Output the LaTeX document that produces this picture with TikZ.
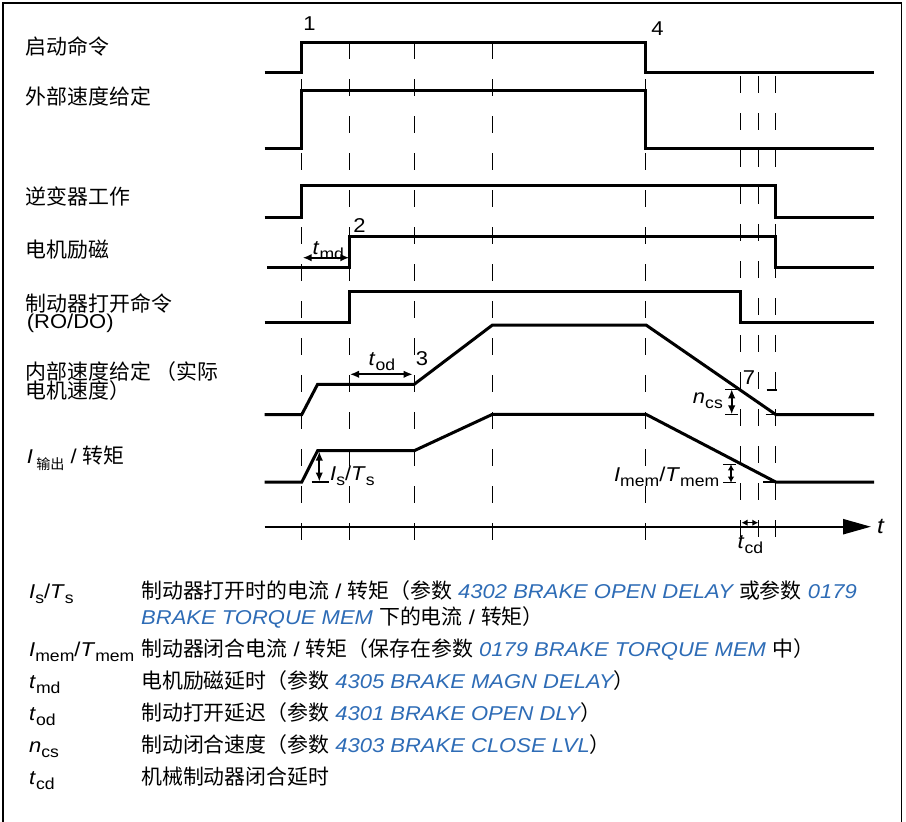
\documentclass[tikz,border=0pt]{standalone}
\usepackage{graphicx}
\usepackage{fontspec}
\setmainfont{Liberation Sans}[FakeStretch=1.1]
\newfontfamily\cjk{Noto Sans CJK SC}[Scale=1.045]
\usetikzlibrary{arrows.meta}
\definecolor{linkblue}{RGB}{46,108,182}
\newcommand\sbx[1]{\raisebox{-0.25em}{\scalebox{0.8}{\upshape #1}}}
\newcommand\prm[1]{{\itshape\color{linkblue}#1}}
\begin{document}
\begin{tikzpicture}[x=1pt,y=-1pt,
  sig/.style={line width=3pt, line join=miter},
  vdash/.style={line width=1pt, dash pattern=on 17pt off 20pt},
  dimarrow/.style={line width=1.7pt, {Latex[length=9pt,width=7.5pt]}-{Latex[length=9pt,width=7.5pt]}},
  smallarrow/.style={line width=1.5pt, {Latex[length=6pt,width=6.5pt]}-{Latex[length=6pt,width=6.5pt]}},
  tickline/.style={line width=1.5pt},
  txt/.style={font=\fontsize{20}{23}\selectfont, inner sep=0pt},
  lbl/.style={txt, anchor=base west},
  num/.style={txt, anchor=center}]
\useasboundingbox (0,0) rectangle (906,822);
% frame
\draw[line width=1.8pt] (3,822) -- (3,3) -- (901.5,3) -- (901.5,822);

% dashed guide lines
\foreach \x in {301.8,349.5,414.2,492.5,645}
  \draw[vdash] (\x,42) -- (\x,540);
\foreach \x in {740.9,758.3,775.7}
  \draw[vdash] (\x,76) -- (\x,540);

% signals
\draw[sig] (264.5,72) -- (301.8,72) -- (301.8,42) -- (645,42) -- (645,72) -- (874,72);
\draw[sig] (264.5,148.3) -- (301.8,148.3) -- (301.8,90) -- (645,90) -- (645,148.3) -- (874,148.3);
\draw[sig] (264.5,217.3) -- (301.8,217.3) -- (301.8,185.7) -- (775.7,185.7) -- (775.7,217.3) -- (874,217.3);
\draw[sig] (267,267.3) -- (349.5,267.3) -- (349.5,236) -- (775.7,236) -- (775.7,267.3) -- (874,267.3);
\draw[sig] (264.5,322.3) -- (349.5,322.3) -- (349.5,291) -- (740.9,291) -- (740.9,322.3) -- (874,322.3);
\draw[sig] (264.5,414.5) -- (301.8,414.5) -- (317.6,384.3) -- (414.2,384.3) -- (492.5,325) -- (646,325) -- (775.7,414.5) -- (874,414.5);
\draw[sig] (264.5,482) -- (301.8,482) -- (317.6,450.7) -- (414.2,450.7) -- (492.5,414.3) -- (646,414.3) -- (775.7,482) -- (874,482);

% time axis
\coordinate (ax0) at (264.5,526.7);
\coordinate (ax1) at (871,526.7);
\draw[line width=2.4pt, -{Triangle[length=28pt,width=15pt]}] (ax0) -- (ax1);
\node[txt, font=\fontsize{22}{24}\selectfont\itshape, anchor=west] (tlab) at (877,526) {t};

% left labels
\node[lbl] (l1) at (25.5,54) {\cjk 启动命令};
\node[lbl] (l2) at (25.5,104) {\cjk 外部速度给定};
\node[lbl] (l3) at (25.5,204) {\cjk 逆变器工作};
\node[lbl] (l4) at (25.5,257) {\cjk 电机励磁};
\node[lbl] (l5) at (25.5,311.5) {\cjk 制动器打开命令};
\node[lbl] (l5b) at (26.7,328.5) {(RO/DO)};
\node[lbl] (l6) at (25.5,379) {\cjk 内部速度给定 （实际};
\node[lbl] (l6b) at (25.5,398) {\cjk 电机速度）};
\node[lbl] (l7) at (26.7,463.5) {\textit{I}\,\raisebox{-0.3em}{\cjk\fontsize{13.5}{14}\selectfont 输出} / {\cjk 转矩}};

% event numbers
\node[num] (n1) at (309.5,24) {1};
\node[num] (n4) at (657.5,29) {4};
\node[num] (n2) at (359.5,226) {2};
\node[num] (n3) at (422,359) {3};
\node[num] (n7) at (749,378) {7};

% t_md
\coordinate (md0) at (302.7,257.7);
\coordinate (md1) at (349.3,257.7);
\draw[dimarrow] (md0) -- (md1);
\node[lbl] (tmd) at (312.5,254.5) {\textit{t}\sbx{md}};

% t_od
\coordinate (od0) at (350,374.3);
\coordinate (od1) at (412.7,374.3);
\draw[dimarrow] (od0) -- (od1);
\node[lbl] (tod) at (368.5,365.5) {\textit{t}\sbx{od}};

% Is/Ts
\coordinate (is0) at (319.3,451.5);
\coordinate (is1) at (319.3,481.5);
\draw[dimarrow] (is0) -- (is1);
\draw[tickline] (311.7,482) -- (329.3,482);
\node[lbl] (ists) at (330,480) {\textit{I}\sbx{s}/\textit{T}\sbx{s}};

% n_cs
\coordinate (cs0) at (731.7,389.3);
\coordinate (cs1) at (731.7,414.3);
\draw[tickline] (725,389.3) -- (737.5,389.3);
\draw[tickline] (725,414.3) -- (737.5,414.3);
\draw[tickline] (766.7,390) -- (777.3,390);
\draw[tickline] (765.7,414.3) -- (775.7,414.3);
\draw[dimarrow] (cs0) -- (cs1);
\node[txt, anchor=base east] (ncs) at (723,403.5) {\textit{n}\sbx{cs}};

% I_mem
\coordinate (im0) at (731,464.3);
\coordinate (im1) at (731,482.7);
\draw[tickline] (723,464.3) -- (735.5,464.3);
\draw[tickline] (723,482.7) -- (735.5,482.7);
\draw[tickline] (763,482) -- (775.7,482);
\draw[smallarrow] (im0) -- (im1);
\node[txt, anchor=base east] (imem) at (719.5,481.7) {\textit{I}\sbx{mem}/\textit{T}\sbx{mem}};

% t_cd
\coordinate (cd0) at (741.5,522.7);
\coordinate (cd1) at (758.3,522.7);
\draw[smallarrow] (cd0) -- (cd1);
\node[lbl] (tcd) at (737.5,548.3) {\textit{t}\sbx{cd}};

% legend
\node[lbl] (s1) at (29,598) {\textit{I}\sbx{s}/\textit{T}\sbx{s}};
\node[lbl] (d1) at (141,598) {{\cjk 制动器打开时的电流} / {\cjk 转矩（参数} \prm{4302 BRAKE OPEN DELAY} {\cjk 或参数} \prm{0179}};
\node[lbl] (d1b) at (141,624.7) {\prm{BRAKE TORQUE MEM} {\cjk 下的电流} / {\cjk 转矩）}};
\node[lbl] (s3) at (29,656.3) {\textit{I}\sbx{mem}/\textit{T}\sbx{mem}};
\node[lbl] (d3) at (141,656.3) {{\cjk 制动器闭合电流} / {\cjk 转矩（保存在参数} \prm{0179 BRAKE TORQUE MEM} {\cjk 中）}};
\node[lbl] (s4) at (29,688.7) {\textit{t}\sbx{md}};
\node[lbl] (d4) at (141,688.7) {{\cjk 电机励磁延时（参数} \prm{4305 BRAKE MAGN DELAY}{\cjk ）}};
\node[lbl] (s5) at (29,720.7) {\textit{t}\sbx{od}};
\node[lbl] (d5) at (141,720.7) {{\cjk 制动打开延迟（参数} \prm{4301 BRAKE OPEN DLY}{\cjk ）}};
\node[lbl] (s6) at (29,752.3) {\textit{n}\sbx{cs}};
\node[lbl] (d6) at (141,752.3) {{\cjk 制动闭合速度（参数} \prm{4303 BRAKE CLOSE LVL}{\cjk ）}};
\node[lbl] (s7) at (29,784.7) {\textit{t}\sbx{cd}};
\node[lbl] (d7) at (141,784.7) {{\cjk 机械制动器闭合延时}};
\end{tikzpicture}
\end{document}
